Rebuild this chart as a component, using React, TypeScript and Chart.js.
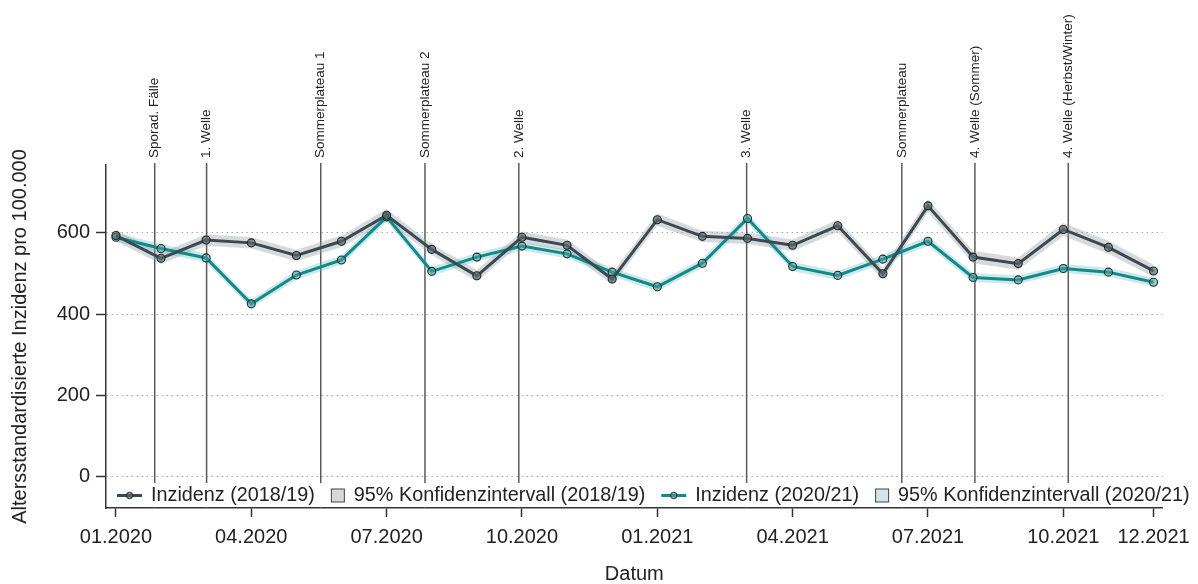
import React, { useEffect, useRef } from "react";
import { Chart, registerables } from "chart.js";

Chart.register(...registerables);

const FONT = '"Liberation Sans", Arial, sans-serif';

// Month labels (monthly index 0 = 01.2020)
const monthLabels = [
  "01.2020", "02.2020", "03.2020", "04.2020", "05.2020", "06.2020",
  "07.2020", "08.2020", "09.2020", "10.2020", "11.2020", "12.2020",
  "01.2021", "02.2021", "03.2021", "04.2021", "05.2021", "06.2021",
  "07.2021", "08.2021", "09.2021", "10.2021", "11.2021", "12.2021",
];
const xTickMonths = [0, 3, 6, 9, 12, 15, 18, 21, 23];
const yTickValues = [0, 200, 400, 600];

// Inzidenz (2018/19)
const inzidenz2018 = [
  593, 537, 582, 575, 544, 579, 643, 559, 494, 589, 569, 486,
  632, 591, 586, 569, 617, 499, 666, 540, 524, 608, 564, 506,
];
// half width of 95% CI (2018/19)
const ci2018Half = [
  14, 14, 14, 14, 14, 14, 15, 14, 14, 14, 14, 14,
  15, 14, 14, 14, 15, 14, 16, 15, 15, 16, 16, 15,
];
// Inzidenz (2020/21)
const inzidenz2020 = [
  589, 561, 538, 425, 496, 533, 639, 505, 540, 567, 548, 503,
  467, 525, 635, 517, 495, 535, 579, 490, 484, 512, 503, 478,
];
// half width of 95% CI (2020/21)
const ci2020Half = [
  11, 11, 11, 10, 11, 11, 12, 11, 11, 11, 11, 11,
  11, 11, 12, 11, 11, 11, 12, 11, 11, 11, 11, 11,
];

// Phase markers (position in month index units)
const phaseLabels = [
  "Sporad. Fälle", "1. Welle", "Sommerplateau 1", "Sommerplateau 2", "2. Welle",
  "3. Welle", "Sommerplateau", "4. Welle (Sommer)", "4. Welle (Herbst/Winter)",
];
const phasePositions = [0.86, 2.01, 4.54, 6.85, 8.93, 13.98, 17.42, 19.04, 21.11];

const DARK = "#3a4a50";
const TEAL = "#12898a";
const GRAY_BAND = "rgba(150,158,162,0.38)";
const TEAL_BAND = "rgba(95,185,185,0.32)";
const TEXT = "#222222";

export default function App() {
  const ref = useRef<HTMLCanvasElement | null>(null);

  useEffect(() => {
    if (!ref.current) return;
    const pts = (arr: number[]) => arr.map((v, i) => ({ x: i, y: v }));
    const lo = (arr: number[], h: number[]) => arr.map((v, i) => ({ x: i, y: v - h[i] }));
    const hi = (arr: number[], h: number[]) => arr.map((v, i) => ({ x: i, y: v + h[i] }));

    const overlay = {
      id: "overlay",
      beforeDatasetsDraw(chart: any) {
        const { ctx, chartArea, scales } = chart;
        const x = scales.x;
        ctx.save();
        phasePositions.forEach((p, i) => {
          const px = x.getPixelForValue(p);
          ctx.strokeStyle = "#5a5a5a";
          ctx.lineWidth = 1.5;
          ctx.beginPath();
          ctx.moveTo(px, chartArea.top - 2);
          ctx.lineTo(px, chartArea.bottom);
          ctx.stroke();
          ctx.save();
          ctx.translate(px, chartArea.top - 7);
          ctx.rotate(-Math.PI / 2);
          ctx.textAlign = "left";
          ctx.textBaseline = "middle";
          ctx.font = `13.5px ${FONT}`;
          ctx.fillStyle = TEXT;
          ctx.fillText(phaseLabels[i], 0, 0);
          ctx.restore();
        });
        ctx.restore();
      },
      afterDraw(chart: any) {
        const { ctx, chartArea } = chart;
        const ds = chart.data.datasets;
        ctx.save();
        const top = chartArea.bottom - 25;
        const bottom = chartArea.bottom - 1;
        const cy = (top + bottom) / 2 + 0.5;
        ctx.fillStyle = "#ffffff";
        ctx.fillRect(chartArea.left + 1, top, 1192 - chartArea.left, bottom - top);
        ctx.font = `19.8px ${FONT}`;
        ctx.textBaseline = "middle";
        ctx.textAlign = "left";
        const items = [
          { kind: "line", color: DARK, fill: "rgba(90,105,110,0.7)", text: ds[0].label },
          { kind: "box", color: "#d6d9da", text: ds[3].label },
          { kind: "line", color: TEAL, fill: "rgba(70,160,160,0.6)", text: ds[1].label },
          { kind: "box", color: "#cfe7e7", text: ds[5].label },
        ];
        let cx = chartArea.left + 11;
        items.forEach((it) => {
          if (it.kind === "line") {
            ctx.strokeStyle = it.color;
            ctx.lineWidth = 3;
            ctx.beginPath();
            ctx.moveTo(cx, cy);
            ctx.lineTo(cx + 25, cy);
            ctx.stroke();
            ctx.beginPath();
            ctx.arc(cx + 12.5, cy, 3.2, 0, Math.PI * 2);
            ctx.fillStyle = it.fill as string;
            ctx.fill();
            ctx.strokeStyle = "#1e282b";
            ctx.lineWidth = 1;
            ctx.stroke();
            cx += 34;
          } else {
            ctx.fillStyle = it.color;
            ctx.fillRect(cx + 0.5, cy - 6.5, 13, 13);
            ctx.strokeStyle = "#444";
            ctx.lineWidth = 1;
            ctx.strokeRect(cx + 0.5, cy - 6.5, 13, 13);
            cx += 23;
          }
          ctx.fillStyle = TEXT;
          ctx.fillText(it.text, cx, cy);
          cx += ctx.measureText(it.text).width + 16;
        });
        ctx.restore();
      },
    };

    const chart = new Chart(ref.current, {
      type: "line",
      data: {
        datasets: [
          {
            label: "Inzidenz (2018/19)",
            data: pts(inzidenz2018),
            borderColor: DARK,
            borderWidth: 3,
            pointRadius: 4,
            pointBackgroundColor: "rgba(90,105,110,0.7)",
            pointBorderColor: "#1e282b",
            pointBorderWidth: 1.1,
            fill: false,
            tension: 0,
            order: 0,
          },
          {
            label: "Inzidenz (2020/21)",
            data: pts(inzidenz2020),
            borderColor: TEAL,
            borderWidth: 3,
            pointRadius: 4,
            pointBackgroundColor: "rgba(70,160,160,0.55)",
            pointBorderColor: "#1e2e2e",
            pointBorderWidth: 1.1,
            fill: false,
            tension: 0,
            order: 1,
          },
          {
            label: "ci2018 lower",
            data: lo(inzidenz2018, ci2018Half),
            borderWidth: 0,
            borderColor: "rgba(0,0,0,0)",
            pointRadius: 0,
            fill: false,
            order: 3,
          },
          {
            label: "95% Konfidenzintervall (2018/19)",
            data: hi(inzidenz2018, ci2018Half),
            borderWidth: 0,
            borderColor: "rgba(0,0,0,0)",
            backgroundColor: GRAY_BAND,
            pointRadius: 0,
            fill: "-1",
            order: 3,
          },
          {
            label: "ci2020 lower",
            data: lo(inzidenz2020, ci2020Half),
            borderWidth: 0,
            borderColor: "rgba(0,0,0,0)",
            pointRadius: 0,
            fill: false,
            order: 2,
          },
          {
            label: "95% Konfidenzintervall (2020/21)",
            data: hi(inzidenz2020, ci2020Half),
            borderWidth: 0,
            borderColor: "rgba(0,0,0,0)",
            backgroundColor: TEAL_BAND,
            pointRadius: 0,
            fill: "-1",
            order: 2,
          },
        ],
      },
      options: {
        responsive: false,
        animation: false,
        devicePixelRatio: 1,
        layout: { padding: { top: 165, right: 35, left: 0, bottom: 0 } },
        plugins: { legend: { display: false }, tooltip: { enabled: false } },
        scales: {
          x: {
            type: "linear",
            min: -0.22,
            max: 23.2,
            afterBuildTicks: (s: any) => {
              s.ticks = xTickMonths.map((v) => ({ value: v }));
            },
            afterFit: (s: any) => {
              s.height = 76;
            },
            ticks: {
              autoSkip: false,
              maxRotation: 0,
              minRotation: 0,
              padding: 8,
              color: TEXT,
              font: { family: FONT, size: 20 },
              callback: (v: any) => monthLabels[Math.round(Number(v))] ?? "",
            },
            grid: {
              display: true,
              drawOnChartArea: false,
              drawTicks: true,
              tickLength: 9,
              tickColor: "#333",
              tickWidth: 1.5,
            },
            border: { display: true, color: "#333", width: 1.5 },
            title: {
              display: true,
              text: "Datum",
              color: TEXT,
              font: { family: FONT, size: 20, lineHeight: 1 },
              padding: 0,
            },
          },
          y: {
            type: "linear",
            min: -77,
            max: 766.5,
            afterBuildTicks: (s: any) => {
              s.ticks = yTickValues.map((v) => ({ value: v }));
            },
            afterFit: (s: any) => {
              s.width = 106;
            },
            ticks: {
              padding: 6,
              color: TEXT,
              font: { family: FONT, size: 20 },
              callback: (v: any) => String(v),
            },
            grid: {
              display: true,
              drawOnChartArea: true,
              drawTicks: true,
              color: "#a8a8a8",
              lineWidth: 1,
              tickLength: 10,
              tickColor: "#333",
              tickWidth: 1.5,
            },
            border: { display: true, color: "#333", width: 1.5, dash: [1.5, 3.5] },
            title: {
              display: true,
              text: "Altersstandardisierte Inzidenz pro 100.000",
              color: TEXT,
              font: { family: FONT, size: 20, lineHeight: 1.2 },
              padding: { top: 8, bottom: 0 },
            },
          },
        },
      },
      plugins: [overlay],
    } as any);
    return () => chart.destroy();
  }, []);

  return (
    <div style={{ position: "fixed", left: 0, top: 0, width: 1198, height: 584, background: "#fff" }}>
      <canvas ref={ref} width={1198} height={584} style={{ display: "block" }} />
    </div>
  );
}
